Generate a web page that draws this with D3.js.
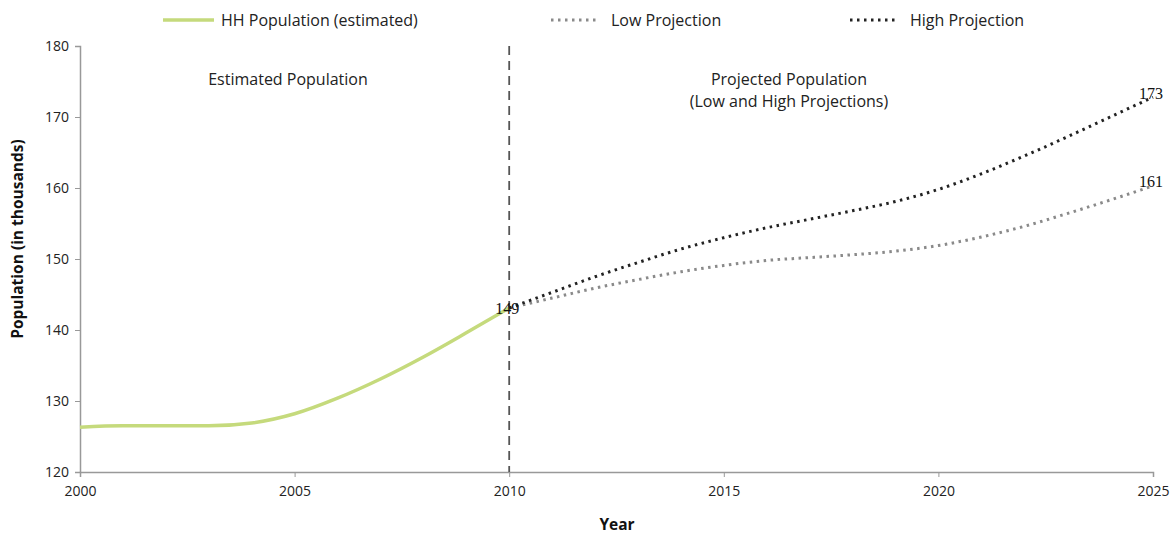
<!DOCTYPE html>
<html><head><meta charset="utf-8">
<script src="https://cdn.jsdelivr.net/npm/d3@7"></script>
<style>
body{margin:0;background:#fff;}
text{font-family:"Open Sans","Noto Sans",sans-serif;}
</style></head>
<body><svg id="c" width="1175" height="534"></svg>
<script>
const estYears = [2000,2001,2002,2003,2004,2005,2006,2007,2008,2009,2010];
const estValues = [126.3,126.5,126.5,126.5,126.9,128.2,130.4,133.1,136.2,139.6,143.1];
const projYears = [2010,2011,2012,2013,2014,2015,2016,2017,2018,2019,2020,2021,2022,2023,2024,2025];
const lowValues = [143.1,144.5,145.9,147.1,148.2,149.1,149.8,150.2,150.6,151.1,151.9,153.1,154.6,156.4,158.3,160.3];
const highValues = [143.1,145.3,147.5,149.5,151.4,153.0,154.4,155.6,156.8,158.1,159.8,162.0,164.5,167.2,170.0,172.8];
const xTicks = [2000,2005,2010,2015,2020,2025];
const yTicks = [120,130,140,150,160,170,180];
const seriesNames = ["HH Population (estimated)","Low Projection","High Projection"];
const dataLabels = [{year:2010,value:143.1,text:"149"},{year:2025,value:172.8,text:"173"},{year:2025,value:160.3,text:"161"}];

const svg = d3.select("#c");
const x = d3.scaleLinear().domain([2000,2025]).range([80,1153]);
const y = d3.scaleLinear().domain([120,180]).range([472,46]);

// axes
const yAxis = svg.append("g").attr("transform","translate(80,0)")
  .call(d3.axisLeft(y).tickValues(yTicks).tickSize(5).tickPadding(6).tickFormat(d3.format("d")));
const xAxis = svg.append("g").attr("transform","translate(0,472)")
  .call(d3.axisBottom(x).tickValues(xTicks).tickSize(5).tickPadding(8).tickFormat(d3.format("d")));
[yAxis,xAxis].forEach(a=>{
  a.select(".domain").attr("stroke","#999").attr("stroke-width",1.5);
  a.selectAll(".tick line").attr("stroke","#999");
  a.selectAll(".tick text").attr("fill","#222").style("font-family","'Open Sans',sans-serif").style("font-size","14px");
});
xAxis.selectAll(".tick text").attr("dy","0.8em");

// divider
svg.append("line").attr("x1",x(2010)).attr("x2",x(2010)).attr("y1",y(180)).attr("y2",y(120))
  .attr("stroke","#555").attr("stroke-width",1.8).attr("stroke-dasharray","9,6");

const line = d3.line().x(d=>x(d[0])).y(d=>y(d[1])).curve(d3.curveMonotoneX);
svg.append("path").datum(estYears.map((d,i)=>[d,estValues[i]])).attr("d",line)
  .attr("fill","none").attr("stroke","#c5da7c").attr("stroke-width",3.5);
svg.append("path").datum(projYears.map((d,i)=>[d,lowValues[i]])).attr("d",line)
  .attr("fill","none").attr("stroke","#8a8a8a").attr("stroke-width",3).attr("stroke-dasharray","2.5,4.5");
svg.append("path").datum(projYears.map((d,i)=>[d,highValues[i]])).attr("d",line)
  .attr("fill","none").attr("stroke","#222").attr("stroke-width",3).attr("stroke-dasharray","2.5,4.5");

// data labels
svg.selectAll(".dl").data(dataLabels).enter().append("text")
  .attr("x",d=>x(d.year)-14).attr("y",d=>y(d.value)+ (d.year===2010?0:-4))
  .attr("dy","0.35em").style("font-family","'Liberation Serif',serif").style("font-size","16px").attr("fill","#111")
  .attr("text-anchor","start").text(d=>d.text);

// annotations
const fs = "16px";
svg.append("text").attr("x",288).attr("y",79).attr("dy","0.35em").attr("text-anchor","middle")
  .style("font-size",fs).attr("fill","#222").text("Estimated Population");
svg.append("text").attr("x",789).attr("y",79).attr("dy","0.35em").attr("text-anchor","middle")
  .style("font-size",fs).attr("fill","#222").text("Projected Population");
svg.append("text").attr("x",789).attr("y",101).attr("dy","0.35em").attr("text-anchor","middle")
  .style("font-size",fs).attr("fill","#222").text("(Low and High Projections)");

// axis titles
svg.append("text").attr("transform","translate(18,239) rotate(-90)").attr("text-anchor","middle").attr("dy","0.35em")
  .style("font-size","15.5px").style("font-weight","bold").attr("fill","#111").text("Population (in thousands)");
svg.append("text").attr("x",617).attr("y",525).attr("dy","0.35em").attr("text-anchor","middle")
  .style("font-size","15.5px").style("font-weight","bold").attr("fill","#111").text("Year");

// legend
const legend = [
  {name:seriesNames[0],x1:163,x2:214,tx:221,color:"#c5da7c",dash:null,w:3.5},
  {name:seriesNames[1],x1:551,x2:600,tx:611,color:"#8a8a8a",dash:"2.5,4.5",w:3},
  {name:seriesNames[2],x1:850,x2:898,tx:910,color:"#222",dash:"2.5,4.5",w:3}
];
legend.forEach(l=>{
  svg.append("line").attr("x1",l.x1).attr("x2",l.x2).attr("y1",20).attr("y2",20)
    .attr("stroke",l.color).attr("stroke-width",l.w).attr("stroke-dasharray",l.dash);
  svg.append("text").attr("x",l.tx).attr("y",20).attr("dy","0.35em").style("font-size",fs).attr("fill","#222").text(l.name);
});
</script></body></html>
